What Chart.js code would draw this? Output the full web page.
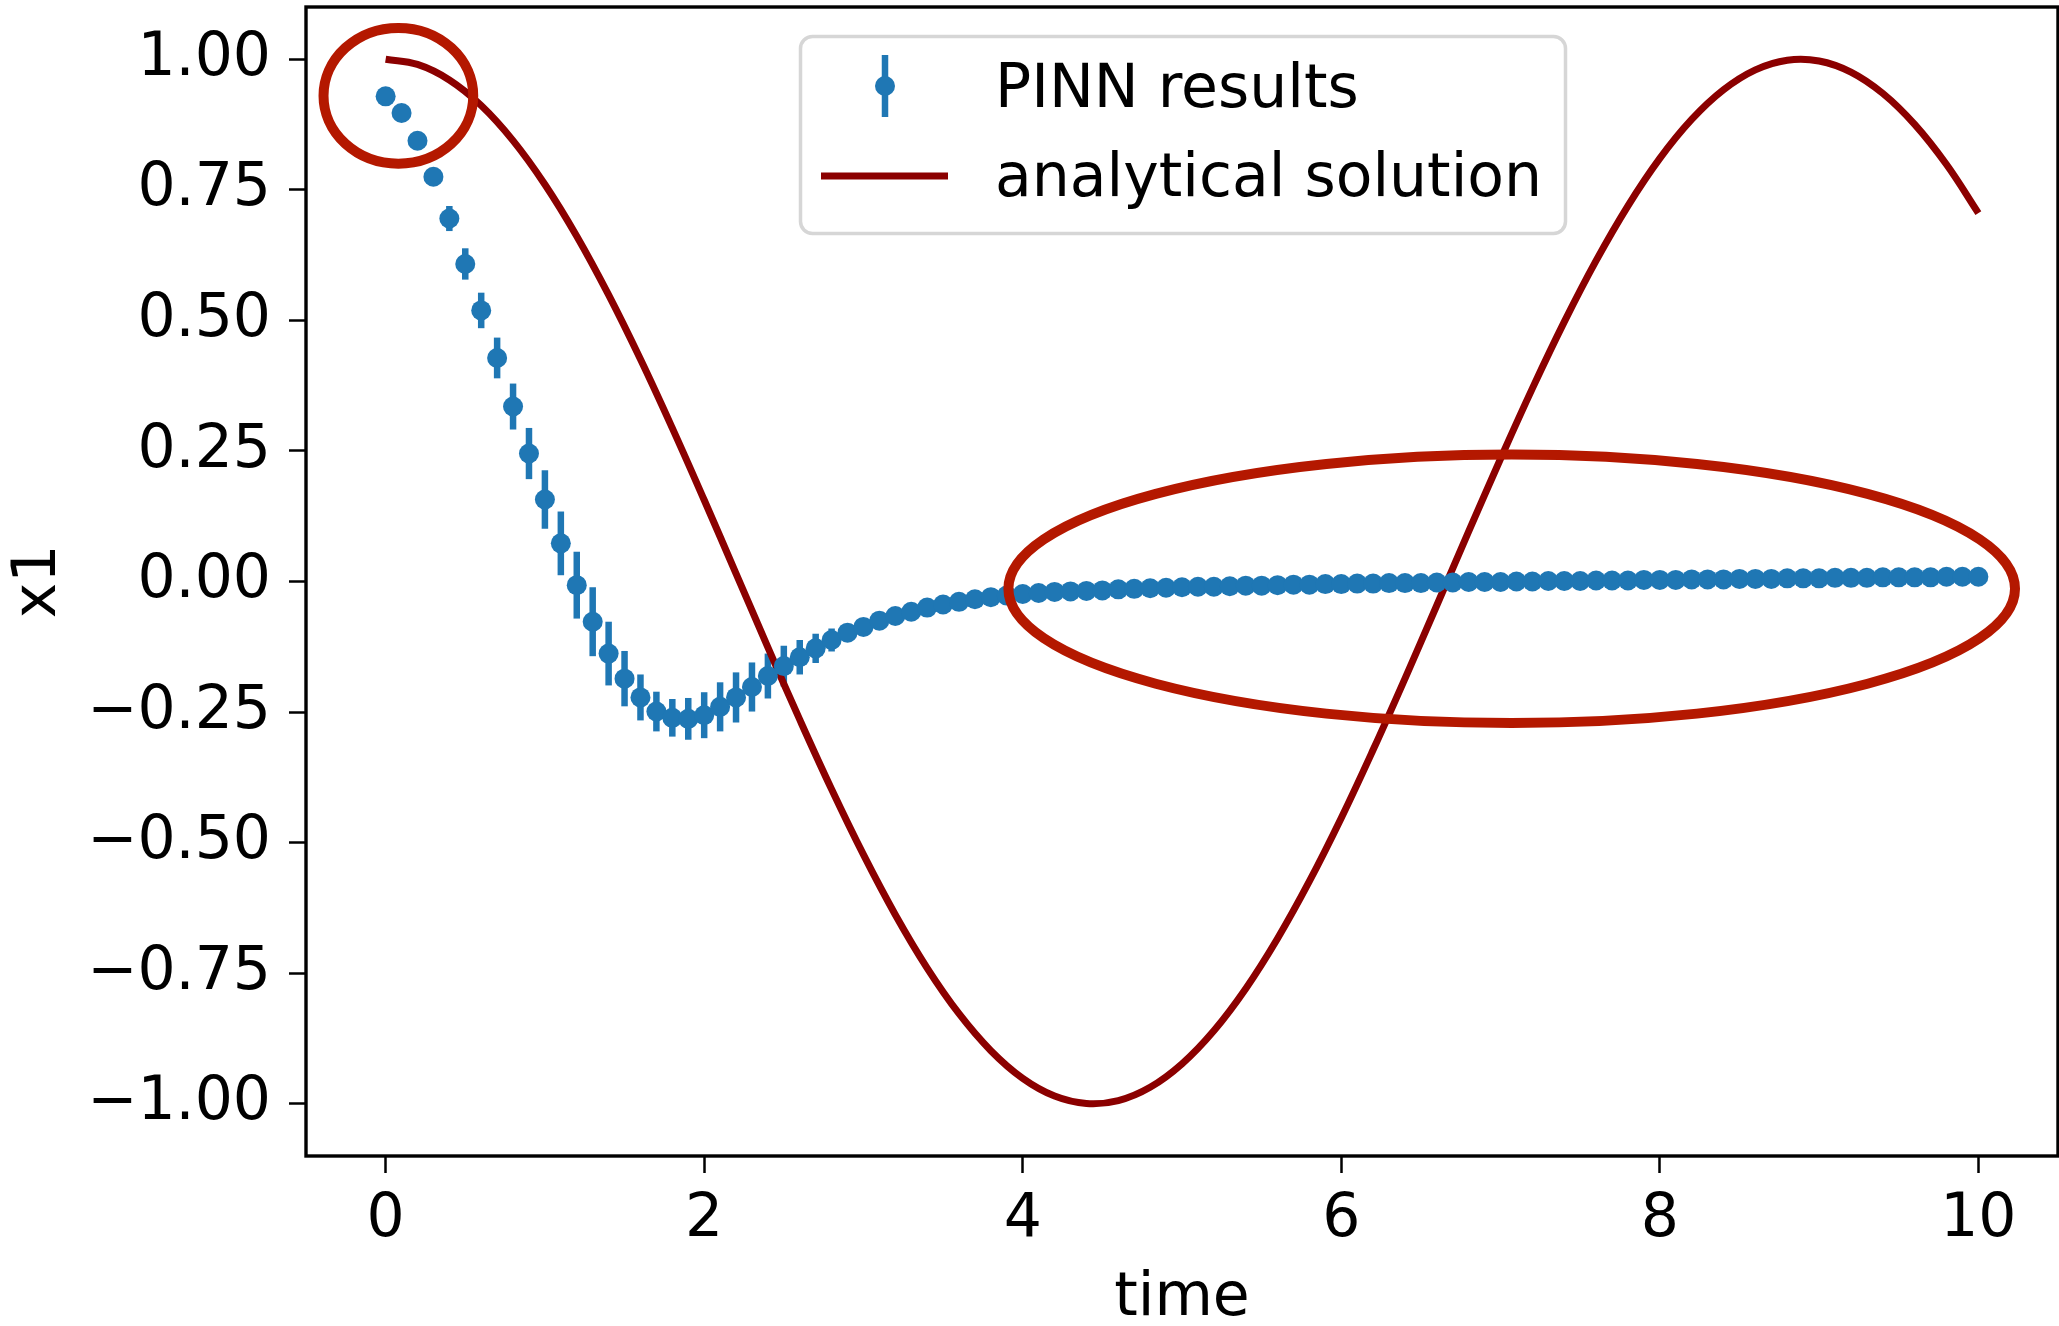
<!DOCTYPE html>
<html><head><meta charset="utf-8">
<script src="https://cdn.jsdelivr.net/npm/chart.js@4/dist/chart.umd.min.js"></script>
<style>html,body{margin:0;padding:0;background:#fff;overflow:hidden}</style>
</head><body>
<canvas id="c" width="2059" height="1326" style="width:2059px;height:1326px;display:block"></canvas>
<script>
// ---------- data ----------
const pinnTime = [0,0.1,0.2,0.3,0.4,0.5,0.6,0.7,0.8,0.9,1,1.1,1.2,1.3,1.4,1.5,1.6,1.7,1.8,1.9,2,2.1,2.2,2.3,2.4,2.5,2.6,2.7,2.8,2.9,3,3.1,3.2,3.3,3.4,3.5,3.6,3.7,3.8,3.9,4,4.1,4.2,4.3,4.4,4.5,4.6,4.7,4.8,4.9,5,5.1,5.2,5.3,5.4,5.5,5.6,5.7,5.8,5.9,6,6.1,6.2,6.3,6.4,6.5,6.6,6.7,6.8,6.9,7,7.1,7.2,7.3,7.4,7.5,7.6,7.7,7.8,7.9,8,8.1,8.2,8.3,8.4,8.5,8.6,8.7,8.8,8.9,9,9.1,9.2,9.3,9.4,9.5,9.6,9.7,9.8,9.9,10];
const pinnValues = [0.929,0.897,0.844,0.775,0.695,0.608,0.519,0.428,0.335,0.245,0.157,0.073,-0.007,-0.077,-0.138,-0.186,-0.222,-0.249,-0.261,-0.263,-0.256,-0.240,-0.222,-0.202,-0.181,-0.162,-0.145,-0.128,-0.112,-0.098,-0.087,-0.075,-0.066,-0.058,-0.050,-0.044,-0.039,-0.034,-0.030,-0.027,-0.024,-0.022,-0.020,-0.019,-0.018,-0.017,-0.015,-0.014,-0.013,-0.012,-0.011,-0.010,-0.010,-0.009,-0.008,-0.008,-0.007,-0.006,-0.006,-0.005,-0.005,-0.004,-0.004,-0.003,-0.003,-0.003,-0.002,-0.002,-0.001,-0.001,-0.001,0.000,0.000,0.001,0.001,0.001,0.002,0.002,0.002,0.003,0.003,0.003,0.004,0.004,0.004,0.005,0.005,0.005,0.006,0.006,0.006,0.007,0.007,0.007,0.008,0.008,0.008,0.008,0.009,0.009,0.009];
const pinnErrors = [0.004,0.007,0.011,0.016,0.024,0.030,0.034,0.039,0.044,0.049,0.056,0.061,0.064,0.066,0.061,0.053,0.044,0.038,0.036,0.040,0.044,0.047,0.048,0.047,0.043,0.039,0.033,0.028,0.022,0.016,0.012,0.009,0.007,0.005,0.004,0.003,0.003,0.002,0.002,0.002,0.002,0.002,0.002,0.002,0.002,0.002,0.002,0.002,0.002,0.002,0.002,0.001,0.001,0.001,0.001,0.001,0.001,0.001,0.001,0.001,0.001,0.001,0.001,0.001,0.001,0.001,0.001,0.001,0.001,0.001,0.001,0.001,0.001,0.001,0.001,0.001,0.001,0.001,0.001,0.001,0.001,0.001,0.001,0.001,0.001,0.001,0.001,0.001,0.001,0.001,0.001,0.001,0.001,0.001,0.001,0.001,0.001,0.001,0.001,0.001,0.001];
const analyticTime = [0,0.2,0.4,0.6,0.8,1,1.2,1.4,1.6,1.8,2,2.2,2.4,2.6,2.8,3,3.2,3.4,3.6,3.8,4,4.2,4.4,4.6,4.8,5,5.2,5.4,5.6,5.8,6,6.2,6.4,6.6,6.8,7,7.2,7.4,7.6,7.8,8,8.2,8.4,8.6,8.8,9,9.2,9.4,9.6,9.8,10];
const analyticValues = [1.0000,0.9900,0.9603,0.9114,0.8442,0.7602,0.6611,0.5487,0.4254,0.2936,0.1560,0.0152,-0.1260,-0.2645,-0.3978,-0.5231,-0.6380,-0.7402,-0.8276,-0.8984,-0.9514,-0.9853,-0.9995,-0.9938,-0.9683,-0.9234,-0.8601,-0.7796,-0.6835,-0.5739,-0.4528,-0.3223,-0.1858,-0.0455,0.0958,0.2351,0.3698,0.4971,0.6144,0.7194,0.8102,0.8848,0.9416,0.9797,0.9982,0.9967,0.9754,0.9346,0.8752,0.7983,0.7053];
const xTicks = [0,2,4,6,8,10];
const yTicks = [-1,-0.75,-0.5,-0.25,0,0.25,0.5,0.75,1];
const seriesLabels = ['PINN results','analytical solution'];
const xTitle = 'time';
const yTitle = 'x1';

// ---------- annotation ellipses (data units) ----------
const highlightEllipses = [
  {cx:0.08, cy:0.93, rx:0.47, ry:0.13},
  {cx:7.07, cy:-0.014, rx:3.16, ry:0.257}
];

const BLUE = '#1f77b4', DARKRED = '#8b0000', MARK = '#b41800';
const FONT = '"DejaVu Sans", "Liberation Sans", sans-serif';
const FS = 60;

const errorBarPlugin = {
  id:'errorBars',
  beforeDatasetsDraw(chart){
    const {ctx, chartArea:a, scales:{x,y}} = chart;
    ctx.save();
    ctx.beginPath(); ctx.rect(a.left,a.top,a.right-a.left,a.bottom-a.top); ctx.clip();
    ctx.strokeStyle = BLUE; ctx.lineWidth = 6.5; ctx.lineCap='butt';
    pinnTime.forEach((t,i)=>{
      const px = x.getPixelForValue(t);
      ctx.beginPath();
      ctx.moveTo(px, y.getPixelForValue(pinnValues[i]-pinnErrors[i]));
      ctx.lineTo(px, y.getPixelForValue(pinnValues[i]+pinnErrors[i]));
      ctx.stroke();
    });
    ctx.restore();
  }
};

const overlayPlugin = {
  id:'overlay',
  afterDatasetsDraw(chart){
    const {ctx, chartArea:a, scales:{x,y}} = chart;
    ctx.save();
    ctx.strokeStyle = MARK; ctx.lineWidth = 10;
    highlightEllipses.forEach(e=>{
      const cx = x.getPixelForValue(e.cx), cy = y.getPixelForValue(e.cy);
      const rx = Math.abs(x.getPixelForValue(e.cx+e.rx)-cx);
      const ry = Math.abs(y.getPixelForValue(e.cy+e.ry)-cy);
      ctx.beginPath(); ctx.ellipse(cx,cy,rx,ry,0,0,Math.PI*2); ctx.stroke();
    });
    ctx.strokeStyle='#000'; ctx.lineWidth=3.4;
    ctx.strokeRect(a.left, a.top, a.right-a.left, a.bottom-a.top);
    ctx.restore();
  },
  afterDraw(chart){
    const {ctx} = chart;
    ctx.save();
    const bx=800.5, by=36.5, bw=765, bh=197, r=12;
    ctx.beginPath();
    ctx.moveTo(bx+r,by); ctx.lineTo(bx+bw-r,by); ctx.arcTo(bx+bw,by,bx+bw,by+r,r);
    ctx.lineTo(bx+bw,by+bh-r); ctx.arcTo(bx+bw,by+bh,bx+bw-r,by+bh,r);
    ctx.lineTo(bx+r,by+bh); ctx.arcTo(bx,by+bh,bx,by+bh-r,r);
    ctx.lineTo(bx,by+r); ctx.arcTo(bx,by,bx+r,by,r); ctx.closePath();
    ctx.fillStyle='rgba(255,255,255,0.8)'; ctx.fill();
    ctx.strokeStyle='#d6d6d6'; ctx.lineWidth=3.5; ctx.stroke();
    ctx.strokeStyle=BLUE; ctx.lineWidth=6.5;
    ctx.beginPath(); ctx.moveTo(885,55); ctx.lineTo(885,117); ctx.stroke();
    ctx.fillStyle=BLUE; ctx.beginPath(); ctx.arc(885,86,10,0,Math.PI*2); ctx.fill();
    ctx.strokeStyle=DARKRED; ctx.lineWidth=7;
    ctx.beginPath(); ctx.moveTo(821,176); ctx.lineTo(948,176); ctx.stroke();
    ctx.fillStyle='#000'; ctx.font=FS+'px '+FONT; ctx.textBaseline='alphabetic'; ctx.textAlign='left';
    ctx.fillText(seriesLabels[0], 995, 107);
    ctx.fillText(seriesLabels[1], 995, 196);
    ctx.restore();
  }
};

const fmtY = v => (v<0?'\u2212':'') + Math.abs(v).toFixed(2);

new Chart(document.getElementById('c'), {
  type:'scatter',
  data:{
    datasets:[
      {
        label: seriesLabels[0],
        data: pinnTime.map((t,i)=>({x:t,y:pinnValues[i]})),
        showLine:false, pointRadius:10, pointHoverRadius:10,
        pointBackgroundColor:BLUE, pointBorderWidth:0, backgroundColor:BLUE, borderColor:BLUE,
        order:0
      },
      {
        label: seriesLabels[1],
        type:'line',
        data: analyticTime.map((t,i)=>({x:t,y:analyticValues[i]})),
        showLine:true, pointRadius:0, borderColor:DARKRED, borderWidth:7,
        tension:0.4, fill:false,
        order:1
      }
    ]
  },
  options:{
    responsive:false, animation:false, devicePixelRatio:1,
    layout:{autoPadding:false, padding:{top:7,right:1,left:0,bottom:0}},
    plugins:{legend:{display:false}, tooltip:{enabled:false}},
    events:[],
    scales:{
      x:{
        type:'linear', min:-0.5, max:10.5,
        afterBuildTicks: s => { s.ticks = xTicks.map(v=>({value:v})); },
        afterFit: s => { s.height = 170; s.paddingLeft = 0; s.paddingRight = 0; },
        border:{display:false},
        grid:{drawOnChartArea:false, drawTicks:true, tickLength:17, tickWidth:2.5, tickColor:'#000', color:'#000'},
        ticks:{color:'#000', padding:17, maxRotation:0, autoSkip:false, font:{family:FONT, size:FS, lineHeight:1}, callback:v=>String(v)},
        title:{display:true, text:xTitle, color:'#000', font:{family:FONT,size:FS,lineHeight:0.9}, padding:{top:0,bottom:0}}
      },
      y:{
        type:'linear', min:-1.1, max:1.1,
        afterBuildTicks: s => { s.ticks = yTicks.map(v=>({value:v})); },
        afterFit: s => { s.width = 306; s.paddingTop = 0; s.paddingBottom = 0; },
        border:{display:false},
        grid:{drawOnChartArea:false, drawTicks:true, tickLength:17, tickWidth:2.5, tickColor:'#000', color:'#000'},
        ticks:{color:'#000', padding:18, autoSkip:false, font:{family:FONT, size:FS, lineHeight:1}, callback:v=>fmtY(v)},
        title:{display:true, text:yTitle, color:'#000', font:{family:FONT,size:FS,lineHeight:1}, padding:{top:9,bottom:0}}
      }
    }
  },
  plugins:[errorBarPlugin, overlayPlugin]
});
</script>
</body></html>
